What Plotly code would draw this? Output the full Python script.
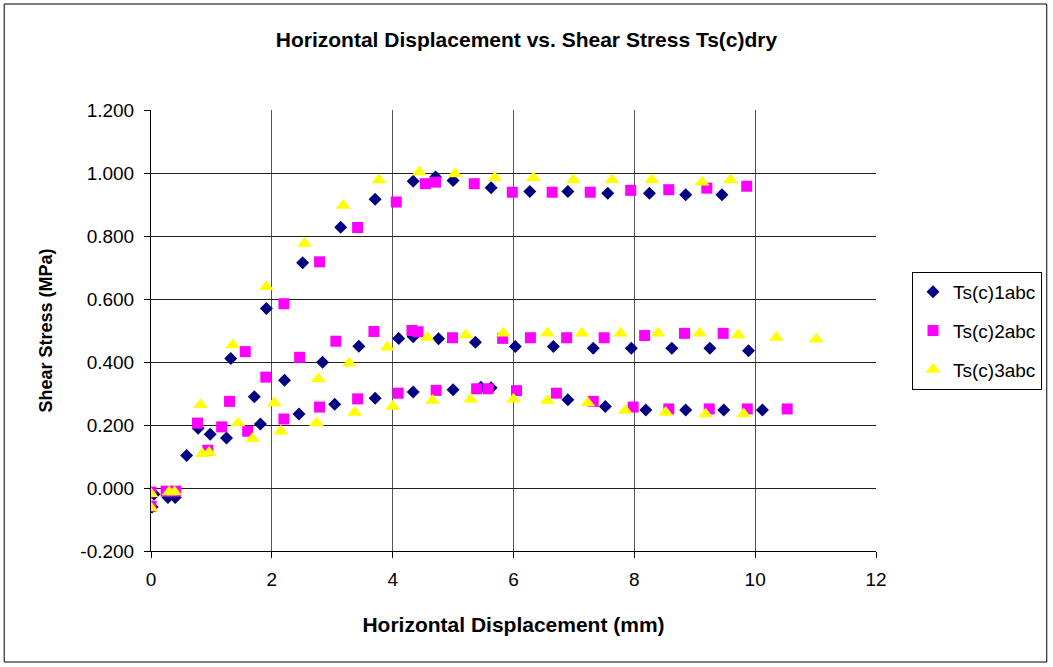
import plotly.graph_objects as go

# ---- data ----
names = ["Ts(c)1abc", "Ts(c)2abc", "Ts(c)3abc"]

x1 = [0.02, 0.05, 0.28, 0.40, 0.59, 0.78, 0.98, 1.25, 1.32, 1.71, 1.81, 1.91,
      2.21, 2.45, 2.51, 2.84, 3.04, 3.14, 3.44, 3.71, 3.71, 4.10, 4.34, 4.34,
      4.34, 4.71, 4.76, 5.00, 5.00, 5.37, 5.46, 5.63, 5.63, 6.03, 6.27, 6.66,
      6.90, 6.90, 7.32, 7.52, 7.56, 7.95, 8.19, 8.25, 8.62, 8.85, 8.85, 9.25,
      9.45, 9.48, 9.89, 10.12]
y1 = [-0.060, -0.020, -0.030, -0.030, 0.103, 0.190, 0.171, 0.159, 0.411, 0.290, 0.203, 0.570,
      0.342, 0.235, 0.715, 0.399, 0.266, 0.828, 0.450, 0.285, 0.917, 0.475, 0.305, 0.480,
      0.974, 0.987, 0.474, 0.976, 0.312, 0.463, 0.320, 0.318, 0.953, 0.449, 0.941, 0.449,
      0.941, 0.280, 0.444, 0.259, 0.936, 0.444, 0.248, 0.936, 0.444, 0.248, 0.931, 0.444,
      0.931, 0.248, 0.436, 0.248]

x2 = [0.00, 0.00, 0.25, 0.41, 0.77, 0.94, 1.17, 1.30, 1.56, 1.60, 1.90, 2.20,
      2.20, 2.46, 2.79, 2.79, 3.06, 3.42, 3.42, 3.69, 4.06, 4.09, 4.32, 4.42,
      4.54, 4.71, 4.72, 4.99, 5.35, 5.39, 5.58, 5.82, 5.98, 6.05, 6.28, 6.64,
      6.71, 6.88, 7.27, 7.32, 7.50, 7.94, 7.98, 8.17, 8.57, 8.57, 8.83, 9.20,
      9.24, 9.47, 9.86, 9.87, 10.53]
y2 = [-0.013, -0.058, -0.010, -0.010, 0.206, 0.120, 0.194, 0.275, 0.433, 0.180, 0.352, 0.585,
      0.219, 0.415, 0.718, 0.257, 0.466, 0.827, 0.283, 0.497, 0.908, 0.301, 0.500, 0.496,
      0.966, 0.971, 0.310, 0.477, 0.966, 0.315, 0.315, 0.475, 0.939, 0.309, 0.477, 0.939,
      0.301, 0.477, 0.939, 0.275, 0.477, 0.945, 0.257, 0.484, 0.947, 0.251, 0.491, 0.952,
      0.251, 0.491, 0.958, 0.251, 0.251]

x3 = [0.00, 0.00, 0.30, 0.39, 0.82, 0.85, 0.96, 1.35, 1.44, 1.68, 1.91, 2.04,
      2.15, 2.54, 2.74, 2.77, 3.18, 3.28, 3.37, 3.77, 3.91, 4.00, 4.44, 4.57,
      4.66, 5.03, 5.21, 5.29, 5.69, 5.83, 6.00, 6.33, 6.56, 6.56, 6.99, 7.13,
      7.23, 7.63, 7.77, 7.85, 8.29, 8.39, 8.52, 9.08, 9.12, 9.18, 9.59, 9.72,
      9.81, 10.35, 11.01]
y3 = [-0.018, -0.063, -0.013, -0.013, 0.264, 0.109, 0.113, 0.454, 0.206, 0.156, 0.639, 0.270,
      0.180, 0.776, 0.206, 0.346, 0.897, 0.396, 0.240, 0.978, 0.447, 0.259, 1.003, 0.478,
      0.278, 0.997, 0.486, 0.282, 0.985, 0.491, 0.282, 0.985, 0.491, 0.278, 0.978, 0.491,
      0.270, 0.978, 0.491, 0.246, 0.978, 0.491, 0.240, 0.491, 0.971, 0.235, 0.978, 0.486,
      0.235, 0.478, 0.472]

y_ticks = [-0.2, 0.0, 0.2, 0.4, 0.6, 0.8, 1.0, 1.2]
y_tick_labels = ["-0.200", "0.000", "0.200", "0.400", "0.600", "0.800", "1.000", "1.200"]
x_ticks = [0, 2, 4, 6, 8, 10, 12]

title_text = "Horizontal Displacement vs. Shear Stress Ts(c)dry"
x_title = "Horizontal Displacement (mm)"
y_title = "Shear Stress (MPa)"

# ---- figure ----
W, H = 1053, 667
L, R, T, B = 151, 877, 110, 551
FONT = "Liberation Sans, Arial, sans-serif"

fig = go.Figure()
styles = [
    dict(symbol="diamond", color="#000080", size=10),
    dict(symbol="square", color="#FF00FF", size=11),
    dict(symbol="triangle-up", color="#FFFF00", size=13),
]
for i, (xs, ys) in enumerate([(x1, y1), (x2, y2), (x3, y3)]):
    s = styles[i]
    fig.add_trace(go.Scatter(
        x=xs, y=ys, mode="markers", name=names[i], legendgroup=names[i],
        marker=dict(symbol=s["symbol"], color=s["color"], size=s["size"],
                    line=dict(width=0)),
    ))

def px_x(p):
    return (p - L) / (R - L)

def px_y(p):
    return (B - p) / (B - T)

fig.add_shape(type="rect", xref="paper", yref="paper",
              x0=px_x(4), x1=px_x(1048), y0=px_y(662), y1=px_y(4),
              line=dict(color="#000000", width=1), fillcolor="rgba(0,0,0,0)",
              layer="below")

fig.update_layout(
    width=W, height=H,
    margin=dict(l=L, r=W - R, t=T, b=H - B, pad=0),
    paper_bgcolor="white", plot_bgcolor="white",
    font=dict(family=FONT, color="black", size=19),
    title=dict(text=title_text, x=0.5, xref="container", xanchor="center",
               y=1 - 40 / H, yref="container", yanchor="middle",
               font=dict(family=FONT, size=21, color="black", weight="bold")),
    showlegend=True,
    legend=dict(x=px_x(912), y=px_y(272), xanchor="left", yanchor="top",
                bordercolor="black", borderwidth=1, bgcolor="white",
                font=dict(family=FONT, size=19, color="black"),
                tracegroupgap=11, itemsizing="trace"),
    xaxis=dict(range=[0, 12], tickvals=x_ticks, ticks="outside", ticklen=6,
               tickcolor="black", showline=True, linecolor="black", linewidth=1,
               showgrid=True, gridcolor="#555555", gridwidth=1, zeroline=False,
               tickfont=dict(size=19), ticklabelstandoff=5,
               title=dict(text=x_title, standoff=28,
                          font=dict(family=FONT, size=21, weight="bold"))),
    yaxis=dict(range=[-0.2, 1.2], tickvals=y_ticks, ticktext=y_tick_labels,
               ticks="outside", ticklen=6, tickcolor="black",
               showline=True, linecolor="black", linewidth=1,
               showgrid=True, gridcolor="#222222", gridwidth=1, zeroline=False,
               tickfont=dict(size=19), ticklabelstandoff=6,
               title=dict(text=y_title, standoff=23,
                          font=dict(family=FONT, size=18, weight="bold"))),
)

fig.write_html("out.html")
